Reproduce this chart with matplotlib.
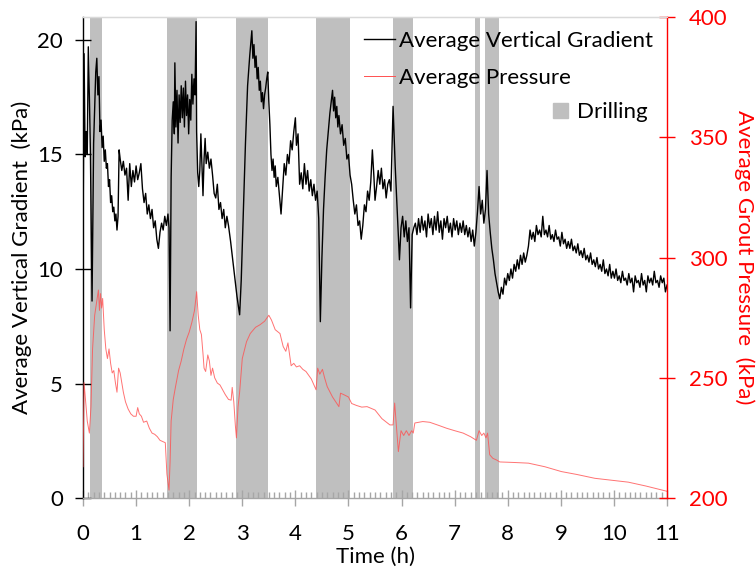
import matplotlib
matplotlib.use("Agg")
import matplotlib.pyplot as plt
from matplotlib.lines import Line2D
from matplotlib.patches import Patch
from matplotlib.ticker import MultipleLocator

# Drilling periods (h)
drill_start = [0.13, 1.58, 2.89, 4.39, 5.83, 7.39, 7.57]
drill_end = [0.36, 2.14, 3.49, 5.02, 6.21, 7.48, 7.84]

# Average vertical gradient (kPa)
grad_t = [
    0.00, 0.02, 0.04, 0.06, 0.08, 0.10, 0.12, 0.14, 0.17, 0.20, 0.22, 0.24, 0.26, 0.28, 0.30,
    0.32, 0.34, 0.36, 0.38, 0.40, 0.42, 0.44, 0.46, 0.48, 0.50, 0.52, 0.54, 0.56, 0.58, 0.60,
    0.62, 0.64, 0.66, 0.68, 0.70, 0.73, 0.76, 0.79, 0.82, 0.85, 0.88, 0.91, 0.94, 0.97, 1.00,
    1.03, 1.06, 1.09, 1.12, 1.15, 1.18, 1.21, 1.24, 1.27, 1.30, 1.33, 1.36, 1.39, 1.42, 1.45,
    1.48, 1.51, 1.54, 1.57, 1.60, 1.62, 1.64, 1.66, 1.68, 1.70, 1.72, 1.73, 1.75, 1.77, 1.79,
    1.81, 1.83, 1.85, 1.87, 1.89, 1.91, 1.93, 1.95, 1.97, 1.99, 2.01, 2.03, 2.05, 2.07, 2.09,
    2.11, 2.13, 2.14, 2.16, 2.18, 2.20, 2.22, 2.24, 2.26, 2.28, 2.30, 2.32, 2.35, 2.38, 2.41,
    2.44, 2.47, 2.50, 2.53, 2.56, 2.59, 2.62, 2.65, 2.68, 2.71, 2.74, 2.78, 2.84, 2.90, 2.95,
    2.98, 3.02, 3.06, 3.10, 3.14, 3.18, 3.20, 3.22, 3.24, 3.26, 3.28, 3.30, 3.32, 3.34, 3.36,
    3.38, 3.40, 3.42, 3.44, 3.46, 3.48, 3.50, 3.52, 3.54, 3.56, 3.58, 3.60, 3.62, 3.64, 3.67,
    3.70, 3.73, 3.76, 3.79, 3.82, 3.85, 3.88, 3.91, 3.94, 3.97, 4.00, 4.02, 4.05, 4.08, 4.11,
    4.14, 4.17, 4.20, 4.23, 4.26, 4.29, 4.32, 4.35, 4.38, 4.41, 4.44, 4.47, 4.50, 4.53, 4.56,
    4.59, 4.62, 4.65, 4.68, 4.70, 4.72, 4.74, 4.76, 4.78, 4.80, 4.82, 4.85, 4.88, 4.91, 4.94,
    4.97, 5.00, 5.03, 5.06, 5.09, 5.12, 5.15, 5.18, 5.21, 5.24, 5.27, 5.30, 5.33, 5.36, 5.39,
    5.42, 5.45, 5.48, 5.50, 5.53, 5.56, 5.59, 5.62, 5.65, 5.68, 5.71, 5.74, 5.77, 5.80, 5.84,
    5.88, 5.92, 5.96, 5.99, 6.02, 6.05, 6.08, 6.11, 6.14, 6.17, 6.20, 6.23, 6.26, 6.29, 6.32,
    6.35, 6.38, 6.41, 6.44, 6.47, 6.50, 6.53, 6.56, 6.59, 6.62, 6.65, 6.68, 6.71, 6.74, 6.77,
    6.80, 6.83, 6.86, 6.89, 6.92, 6.95, 6.98, 7.01, 7.04, 7.07, 7.10, 7.13, 7.16, 7.19, 7.22,
    7.25, 7.28, 7.31, 7.34, 7.37, 7.40, 7.43, 7.46, 7.49, 7.52, 7.55, 7.58, 7.61, 7.64, 7.67,
    7.70, 7.73, 7.76, 7.79, 7.82, 7.85, 7.88, 7.91, 7.94, 7.97, 8.00, 8.03, 8.06, 8.09, 8.12,
    8.15, 8.18, 8.21, 8.24, 8.27, 8.30, 8.33, 8.36, 8.39, 8.42, 8.45, 8.48, 8.51, 8.54, 8.57,
    8.60, 8.63, 8.66, 8.69, 8.72, 8.75, 8.78, 8.81, 8.84, 8.87, 8.90, 8.93, 8.96, 8.99, 9.02,
    9.05, 9.08, 9.11, 9.14, 9.17, 9.20, 9.23, 9.26, 9.29, 9.32, 9.35, 9.38, 9.41, 9.44, 9.47,
    9.50, 9.53, 9.56, 9.59, 9.62, 9.65, 9.68, 9.71, 9.74, 9.77, 9.80, 9.83, 9.86, 9.89, 9.92,
    9.95, 9.98, 10.01, 10.04, 10.07, 10.10, 10.13, 10.16, 10.19, 10.22, 10.25, 10.28, 10.31, 10.34, 10.37,
    10.40, 10.43, 10.46, 10.49, 10.52, 10.55, 10.58, 10.61, 10.64, 10.67, 10.70, 10.73, 10.76, 10.79, 10.82,
    10.85, 10.88, 10.91, 10.94, 10.97, 11.00,
]
grad_v = [
    11.0, 19.4, 14.9, 16.0, 15.0, 19.7, 17.5, 15.0, 8.6, 15.5, 17.0, 18.6, 19.2, 17.6, 18.4,
    16.0, 16.5, 15.3, 15.8, 14.7, 15.2, 14.4, 14.6, 13.6, 13.9, 12.9, 13.2, 12.5, 12.7, 12.1,
    12.4, 11.7, 12.3, 15.2, 14.8, 14.3, 14.7, 14.1, 14.4, 13.0, 14.6, 13.6, 14.3, 13.8, 14.5,
    13.9, 14.2, 14.6, 13.5, 12.9, 13.3, 12.4, 12.8, 12.2, 12.6, 11.8, 12.1, 11.3, 10.9, 11.6,
    12.0, 11.7, 12.3, 11.9, 12.4, 11.8, 7.3, 14.0, 16.5, 17.3, 15.9, 19.0, 16.2, 17.8, 15.5,
    17.6, 16.4, 18.0, 16.6, 17.9, 16.2, 18.2, 16.7, 17.6, 15.9, 17.4, 16.5, 18.5, 17.2, 18.3,
    17.6, 20.8, 16.0, 14.2, 13.6, 14.3, 15.9, 14.5, 13.2, 14.8, 15.7, 14.6, 15.1, 14.4, 14.8,
    14.1, 13.3, 13.1, 13.7, 12.6, 12.9, 12.2, 12.6, 11.8, 12.3, 11.9, 11.2, 10.0, 8.8, 8.0,
    9.5, 12.5, 15.5, 18.0, 19.3, 20.4, 19.2, 19.8, 18.8, 19.3, 18.3, 18.8, 17.8, 18.2, 17.3,
    17.7, 17.0, 17.6, 17.9, 18.3, 18.6, 17.3, 16.3, 15.0, 14.3, 14.8, 14.0, 14.5, 13.6, 14.0,
    13.2, 12.4, 13.5, 14.6, 14.1, 15.0, 14.6, 15.6, 15.2, 16.0, 16.6, 15.4, 15.9, 13.7, 14.2,
    13.5, 14.6, 13.7, 14.3, 13.4, 13.9, 13.2, 13.7, 13.0, 13.4, 12.2, 7.7, 10.5, 12.6, 14.0,
    15.2, 16.0, 16.8, 17.4, 17.8, 16.9, 17.5, 16.6, 17.1, 16.2, 16.7, 15.9, 16.3, 15.4, 15.7,
    14.8, 15.0, 14.1, 13.7, 13.0, 12.4, 12.8, 11.9, 12.1, 11.3, 11.9, 12.8, 12.5, 13.4, 13.0,
    13.8, 15.2, 14.0, 13.0, 13.6, 14.3, 13.7, 14.4, 13.5, 13.9, 13.1, 13.7, 13.9, 13.4, 17.1,
    14.5, 12.4, 10.4, 11.8, 12.3, 11.4, 12.1, 11.2, 11.8, 8.3, 11.5, 11.8, 12.0, 11.5, 12.2,
    11.6, 12.3, 11.7, 12.1, 11.4, 12.4, 11.8, 12.2, 11.5, 12.3, 11.7, 12.5, 11.6, 12.1, 11.3,
    12.2, 11.8, 12.3, 11.6, 12.0, 11.4, 12.2, 11.7, 12.1, 11.5, 12.0, 11.6, 12.1, 11.5, 11.9,
    11.4, 11.8, 11.2, 11.7, 11.0, 11.6, 12.5, 13.6, 12.4, 13.0, 12.0, 12.6, 14.3, 12.4, 11.6,
    10.9, 10.4, 9.8, 9.4, 9.0, 8.7, 9.2, 8.9, 9.6, 9.3, 9.8, 9.5, 10.0, 9.6, 10.2,
    9.9, 10.4, 10.0, 10.6, 10.2, 10.7, 10.3, 10.6, 11.0, 11.7, 11.3, 11.6, 11.2, 11.9, 11.5,
    11.7, 11.4, 12.3, 11.5, 11.7, 11.4, 11.9, 11.3, 11.5, 11.2, 11.7, 11.3, 11.4, 11.0, 11.6,
    11.1, 11.3, 10.9, 11.2, 10.9, 11.3, 10.8, 11.0, 10.7, 11.1, 10.6, 10.8, 10.5, 10.9, 10.4,
    10.6, 10.3, 10.7, 10.2, 10.4, 10.1, 10.5, 10.0, 10.2, 9.9, 10.4, 9.8, 10.0, 9.7, 10.2,
    9.6, 9.9, 9.6, 10.0, 9.5, 9.7, 9.4, 9.9, 9.5, 9.6, 9.3, 9.8, 9.4, 9.6, 9.0,
    9.7, 9.4, 9.5, 9.2, 9.8, 9.3, 9.5, 9.0, 9.7, 9.4, 9.6, 9.3, 9.9, 9.4, 9.5,
    9.2, 9.7, 9.4, 9.6, 9.0, 9.3,
]

# Average grout pressure (kPa)
pres_t = [
    0.00, 0.02, 0.05, 0.08, 0.12, 0.15, 0.18, 0.22, 0.26, 0.29, 0.31, 0.33, 0.35, 0.37, 0.40,
    0.43, 0.46, 0.49, 0.52, 0.55, 0.58, 0.61, 0.64, 0.67, 0.70, 0.73, 0.76, 0.80, 0.85, 0.90,
    0.95, 1.00, 1.03, 1.06, 1.10, 1.14, 1.20, 1.25, 1.30, 1.35, 1.40, 1.45, 1.50, 1.55, 1.58,
    1.62, 1.64, 1.66, 1.70, 1.74, 1.80, 1.85, 1.90, 1.95, 2.00, 2.05, 2.10, 2.14, 2.17, 2.20,
    2.23, 2.26, 2.28, 2.31, 2.35, 2.38, 2.41, 2.44, 2.48, 2.53, 2.58, 2.63, 2.68, 2.74, 2.79,
    2.81, 2.84, 2.87, 2.89, 2.92, 2.95, 3.00, 3.08, 3.15, 3.25, 3.33, 3.42, 3.50, 3.55, 3.62,
    3.71, 3.77, 3.82, 3.86, 3.92, 3.97, 4.02, 4.08, 4.14, 4.20, 4.30, 4.39, 4.42, 4.46, 4.51,
    4.55, 4.60, 4.70, 4.82, 4.85, 4.91, 5.00, 5.06, 5.15, 5.25, 5.35, 5.50, 5.63, 5.78, 5.84,
    5.87, 5.94, 5.99, 6.04, 6.09, 6.14, 6.19, 6.22, 6.25, 6.40, 6.53, 6.70, 6.85, 7.00, 7.16,
    7.30, 7.41, 7.46, 7.51, 7.55, 7.59, 7.62, 7.66, 7.72, 7.79, 7.85, 8.10, 8.39, 8.70, 9.01,
    9.30, 9.64, 10.00, 10.27, 10.60, 10.96, 11.00,
]
pres_v = [
    213.0, 248.0, 240.0, 232.0, 227.0, 238.0, 262.0, 276.0, 282.0, 286.5, 278.0, 285.0, 279.0, 283.0, 270.0,
    262.0, 258.0, 262.0, 256.0, 252.0, 253.0, 248.0, 244.0, 254.0, 252.0, 248.0, 244.0, 240.0, 237.0, 235.0,
    234.0, 234.0, 237.6, 235.0, 234.0, 231.5, 232.0, 229.0, 227.0, 226.5, 225.5, 224.0, 223.5, 223.0, 210.0,
    203.3, 215.0, 232.0, 241.0, 246.0, 253.0, 257.0, 262.0, 266.0, 269.0, 273.0, 278.0, 285.8, 276.0, 270.0,
    268.0, 260.0, 254.0, 252.6, 259.5, 257.0, 251.0, 254.0, 250.0, 247.8, 247.0, 245.0, 243.0, 241.0, 240.7,
    246.0, 240.0, 230.0, 225.0, 238.0, 244.0, 258.0, 265.0, 268.4, 271.0, 272.0, 273.5, 276.0, 274.0, 270.0,
    268.4, 263.0, 261.0, 264.5, 255.0, 256.0, 254.5, 255.0, 253.5, 252.6, 249.5, 245.0, 254.0, 251.5, 253.5,
    250.0, 246.3, 242.0, 238.0, 243.6, 243.0, 242.0, 239.3, 238.5, 237.8, 238.0, 236.6, 233.0, 230.4, 230.4,
    239.5, 219.3, 228.0, 226.0, 228.0, 226.0, 228.0, 227.0, 231.2, 231.8, 231.5, 230.2, 229.0, 228.0, 227.0,
    225.5, 224.0, 228.0, 226.0, 227.0, 225.0, 227.0, 218.0, 216.5, 215.8, 215.0, 214.8, 214.5, 213.0, 211.0,
    209.8, 208.2, 207.3, 206.6, 205.0, 203.0, 202.8,
]

plt.rcParams["font.family"] = ["Lato", "DejaVu Sans"]
plt.rcParams["font.size"] = 16

fig = plt.figure(figsize=(7.56, 5.68), dpi=100)
ax = fig.add_axes([0.1098, 0.1232, 0.7725, 0.8468])
ax2 = ax.twinx()

# drilling bands
for s, e in zip(drill_start, drill_end):
    ax.axvspan(s, e, color="#bfbfbf", lw=0, zorder=0)

ax.plot(grad_t, grad_v, color="black", lw=1.0, zorder=2)
ax2.plot(pres_t, pres_v, color="#ff5050", lw=0.7, alpha=0.8)

ax.set_xlim(0, 11)
ax.set_ylim(0, 21)
ax2.set_ylim(200, 400)
ax.xaxis.set_major_locator(MultipleLocator(1))
ax.xaxis.set_minor_locator(MultipleLocator(0.1))
ax.yaxis.set_major_locator(MultipleLocator(5))
ax2.yaxis.set_major_locator(MultipleLocator(50))

# spines
ax.spines["left"].set_color("black")
ax.spines["bottom"].set_color("#a6a6a6")
ax.spines["top"].set_color("#d9d9d9")
ax.spines["right"].set_visible(False)
ax2.spines["right"].set_color("red")
ax2.spines["left"].set_visible(False)
ax2.spines["bottom"].set_visible(False)
ax2.spines["top"].set_color("#d9d9d9")
for sp in ax.spines.values():
    sp.set_linewidth(1.0)
ax2.spines["right"].set_linewidth(1.0)

# ticks
ax.tick_params(axis="y", direction="inout", length=11, width=1, color="black", pad=9, labelsize=16)
ax.tick_params(axis="x", which="major", direction="inout", length=11, width=1, color="#a6a6a6", pad=13, labelsize=16)
ax.tick_params(axis="x", which="minor", direction="in", length=4, width=1, color="#a6a6a6")
ax2.tick_params(axis="y", direction="inout", length=11, width=1, color="red", labelcolor="red", pad=10, labelsize=16)

ax.set_xlabel("Time (h)", fontsize=16, labelpad=2)
ax.set_ylabel("Average Vertical Gradient  (kPa)", fontsize=16, labelpad=4)
ax2.set_ylabel("Average Grout Pressure  (kPa)", fontsize=16, color="red", rotation=270, labelpad=20)

# legends
line_handles = [Line2D([], [], color="black", lw=1.0), Line2D([], [], color="#ff5050", lw=0.7)]
leg1 = ax2.legend(line_handles, ["Average Vertical Gradient", "Average Pressure"],
                  loc="upper left", bbox_to_anchor=(0.481, 0.945), bbox_transform=fig.transFigure,
                  frameon=False, fontsize=16, handlelength=1.4, handletextpad=0.2,
                  labelspacing=0.75, borderpad=0, borderaxespad=0)
ax2.add_artist(leg1)
ax2.legend([Patch(color="#bfbfbf")], ["Drilling"],
           loc="upper left", bbox_to_anchor=(0.731, 0.82), bbox_transform=fig.transFigure,
           frameon=False, fontsize=16, handlelength=0.7, handleheight=0.7, handletextpad=0.4,
           borderpad=0, borderaxespad=0)

fig.savefig("out.png", dpi=100)
